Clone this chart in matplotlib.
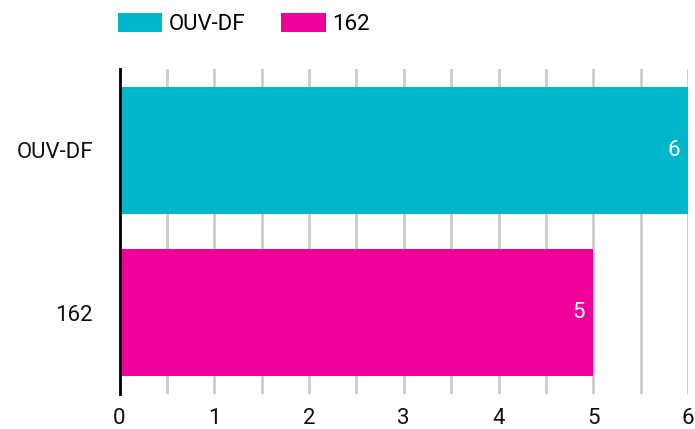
import matplotlib.pyplot as plt
from matplotlib.patches import Patch

plt.rcParams["font.family"] = ["Roboto", "DejaVu Sans"]

categories = ["OUV-DF", "162"]
values = [6, 5]
colors = ["#00b6cb", "#f0009b"]
x_ticks = [0, 1, 2, 3, 4, 5, 6]

fig = plt.figure(figsize=(6.95, 4.29), dpi=100)
ax = fig.add_axes([119.5 / 695, 1 - 394 / 429, (688 - 119.5) / 695, (394 - 69) / 429])

y_pos = list(range(len(categories)))
ax.barh(y_pos, values, height=0.78, color=colors, zorder=3)
ax.set_ylim(len(categories) - 0.5, -0.5)
ax.set_xlim(0, 6)

# gridlines every half unit, labels only on integers
ax.set_xticks([t / 2 for t in range(13)], minor=True)
ax.set_xticks(x_ticks)
ax.set_xticklabels([str(t) for t in x_ticks], fontsize=16, color="#111111")
ax.grid(axis="x", which="both", color="#cccccc", linewidth=2, zorder=0)
ax.tick_params(axis="x", which="both", length=0, pad=10)
ax.set_yticks(y_pos)
ax.set_yticklabels(categories, fontsize=16, color="#111111")
ax.tick_params(axis="y", length=0, pad=19)

for spine in ["top", "right", "bottom"]:
    ax.spines[spine].set_visible(False)
ax.spines["left"].set_linewidth(2)
ax.spines["left"].set_color("black")
ax.spines["left"].set_zorder(4)

for y, v in zip(y_pos, values):
    ax.annotate(str(v), xy=(v, y), xytext=(-6, 0), textcoords="offset points",
                ha="right", va="center", color="white", fontsize=16, zorder=5)

handles = [Patch(facecolor=c, label=l) for c, l in zip(colors, categories)]
fig.legend(handles=handles, loc="upper left", bbox_to_anchor=(109 / 695, 1 - 4 / 429),
           ncol=2, frameon=False, fontsize=16, handlelength=2.0, handleheight=0.95,
           handletextpad=0.3, columnspacing=1.6, borderaxespad=0)

fig.savefig("out.png", dpi=100)
